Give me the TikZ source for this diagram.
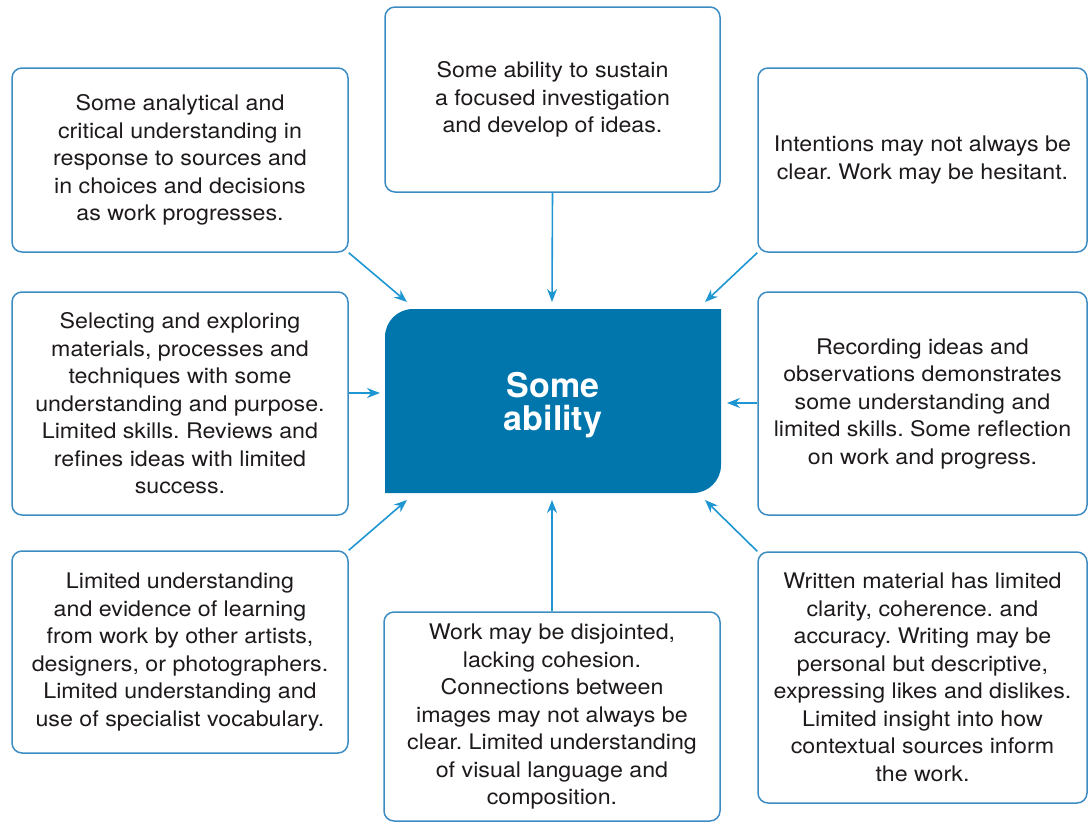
\documentclass[tikz,border=0pt]{standalone}
\usepackage{fontspec}
\setmainfont{TeX Gyre Heros}
\newfontfamily\boxfont{TeX Gyre Heros}[FakeStretch=1.08]
\usetikzlibrary{arrows.meta}
\definecolor{boxline}{RGB}{60,140,195}
\definecolor{arrowc}{RGB}{30,150,210}
\definecolor{centerfill}{RGB}{0,118,173}
\definecolor{txt}{RGB}{30,26,28}
\frenchspacing
\begin{document}
\begin{tikzpicture}[x=1pt,y=-1pt,
  box/.style={draw=boxline, line width=1.5pt, rounded corners=10pt, inner sep=0pt,
    align=center, text=txt, font=\boxfont\fontsize{21.5}{27.5}\selectfont},
  arr/.style={draw=arrowc, line width=1.6pt, -{Stealth[length=13pt,width=10pt]}}]
\useasboundingbox (0,0) rectangle (1088,823);
% centre shape
\fill[centerfill] (385,493) -- (385,337) .. controls (385,321.5) and (397.5,309) .. (413,309)
  -- (721,309) -- (721,465) .. controls (721,480.5) and (708.5,493) .. (693,493) -- cycle;
\node[inner sep=0pt, minimum width=336pt, minimum height=184pt, align=center, text=white,
  font=\bfseries\fontsize{34}{33}\selectfont] (c) at (553,405) {Some\\ability};
% boxes
\node[box, minimum width=336pt, minimum height=184pt] (tl) at (180,160)
  {Some analytical and\\critical understanding in\\response to sources and\\in choices and decisions\\as work progresses.};
\node[box, minimum width=335pt, minimum height=185pt] (tm) at (552.5,99.5)
  {Some ability to sustain\\a focused investigation\\and develop of ideas.};
\node[box, minimum width=329pt, minimum height=184pt] (tr) at (922.5,160)
  {Intentions may not always be\\clear. Work may be hesitant.};
\node[box, minimum width=336pt, minimum height=223pt] (ml) at (180,403.5)
  {Selecting and exploring\\materials, processes and\\techniques with some\\understanding and purpose.\\Limited skills. Reviews and\\refines ideas with limited\\success.};
\node[box, minimum width=329pt, minimum height=223pt] (mr) at (922.5,403.5)
  {Recording ideas and\\observations demonstrates\\some understanding and\\limited skills. Some reflection\\on work and progress.};
\node[box, minimum width=336pt, minimum height=202pt] (bl) at (180,652)
  {Limited understanding\\and evidence of learning\\from work by other artists,\\designers, or photographers.\\Limited understanding and\\use of specialist vocabulary.};
\node[box, minimum width=336pt, minimum height=209pt] (bm) at (552,716.5)
  {Work may be disjointed,\\lacking cohesion.\\Connections between\\images may not always be\\clear. Limited understanding\\of visual language and\\composition.};
\node[box, minimum width=329pt, minimum height=251pt] (br) at (922.5,677.5)
  {Written material has limited\\clarity, coherence. and\\accuracy. Writing may be\\personal but descriptive,\\expressing likes and dislikes.\\Limited insight into how\\contextual sources inform\\the work.};
% arrow targets
\coordinate (t1) at (407,302);
\coordinate (t2) at (552,302);
\coordinate (t3) at (705,302);
\coordinate (t4) at (380,393);
\coordinate (t5) at (727,403);
\coordinate (t6) at (407,500);
\coordinate (t7) at (552,500);
\coordinate (t8) at (705,500);
% connectors
\draw[arr] (tl.south east) -- (t1);
\draw[arr] (tm.south) -- (t2);
\draw[arr] (tr.south west) -- (t3);
\draw[arr] (t4 -| ml.east) -- (t4);
\draw[arr] (t5 -| mr.west) -- (t5);
\draw[arr] (bl.north east) -- (t6);
\draw[arr] (bm.north) -- (t7);
\draw[arr] (br.north west) -- (t8);
\end{tikzpicture}
\end{document}
